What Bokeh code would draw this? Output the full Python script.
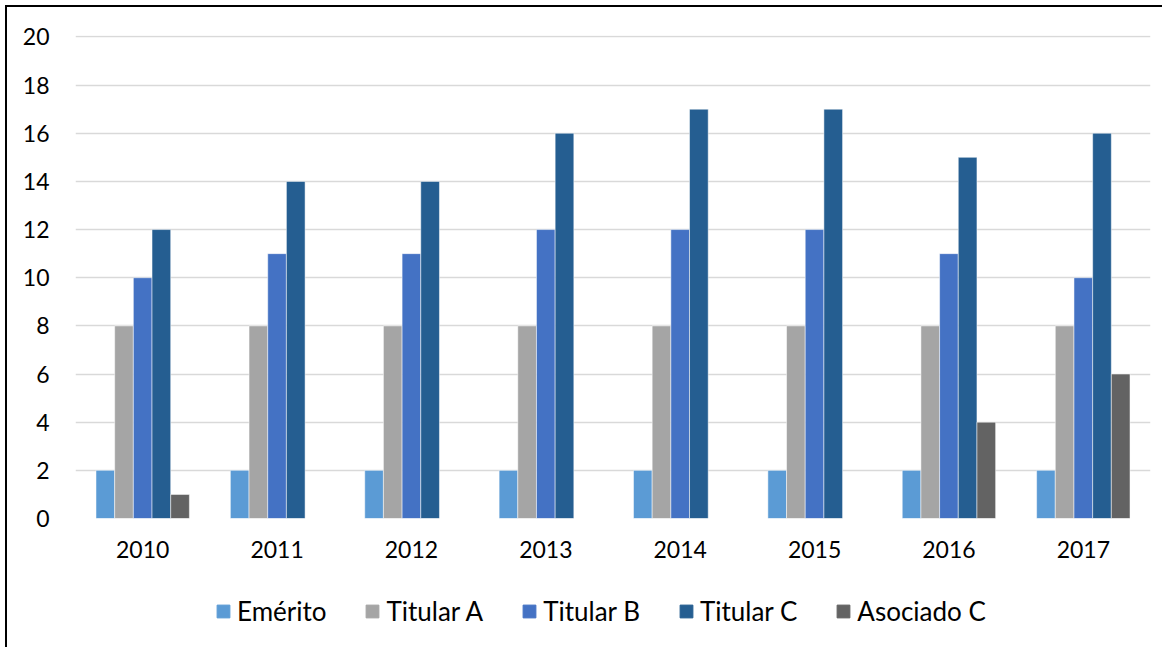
from bokeh.plotting import figure
from bokeh.layouts import column
from bokeh.models import ColumnDataSource, FactorRange, Legend, LegendItem, SingleIntervalTicker, Range1d
from bokeh.transform import dodge
from bokeh.embed import file_html
from bokeh.resources import INLINE

years = ["2010", "2011", "2012", "2013", "2014", "2015", "2016", "2017"]
series_names = ["Emérito", "Titular A", "Titular B", "Titular C", "Asociado C"]
emerito = [2, 2, 2, 2, 2, 2, 2, 2]
titular_a = [8, 8, 8, 8, 8, 8, 8, 8]
titular_b = [10, 11, 11, 12, 12, 12, 11, 10]
titular_c = [12, 14, 14, 16, 17, 17, 15, 16]
asociado_c = [1, 0, 0, 0, 0, 0, 4, 6]
colors = ["#5B9BD5", "#A5A5A5", "#4472C4", "#255E91", "#636363"]

src = ColumnDataSource(dict(year=years, s0=emerito, s1=titular_a, s2=titular_b,
                            s3=titular_c, s4=asociado_c))

FONT = "Lato"
W = 1155
p = figure(x_range=FactorRange(*years, range_padding=0), y_range=Range1d(0, 20.06),
           width=W, height=575, output_backend="svg", toolbar_location=None,
           min_border_left=68, min_border_right=12, min_border_top=28, min_border_bottom=64)

bw = 0.139
keys = ["s0", "s1", "s2", "s3", "s4"]
for i, (key, c) in enumerate(zip(keys, colors)):
    p.vbar(x=dodge("year", (i - 2) * bw, range=p.x_range), top=key, width=bw,
           source=src, fill_color=c, line_color="white", line_width=0.5)

p.outline_line_color = None
p.xgrid.grid_line_color = None
p.ygrid.grid_line_color = "#D9D9D9"
p.ygrid.grid_line_width = 1.5
p.yaxis.ticker = SingleIntervalTicker(interval=2)
p.yaxis.axis_line_color = None
p.yaxis.major_tick_line_color = None
p.yaxis.minor_tick_line_color = None
p.yaxis.major_label_text_font = FONT
p.yaxis.major_label_text_font_size = "23px"
p.yaxis.major_label_text_color = "black"
p.yaxis.major_label_standoff = 20
p.xaxis.axis_line_color = None
p.xaxis.major_tick_line_color = None
p.xaxis.minor_tick_line_color = None
p.xaxis.major_label_text_font = FONT
p.xaxis.major_label_text_font_size = "23px"
p.xaxis.major_label_text_color = "black"
p.xaxis.major_label_standoff = 16

# legend-only strip below the chart
pl = figure(width=W, height=65, output_backend="svg", toolbar_location=None,
            x_range=Range1d(0, 1), y_range=Range1d(0, 1),
            min_border=0, min_border_left=0, min_border_right=0,
            min_border_top=0, min_border_bottom=0)
pl.axis.visible = False
pl.grid.visible = False
pl.outline_line_color = None
items = []
for name, c in zip(series_names, colors):
    r = pl.vbar(x=[-1000], top=[-1000], bottom=[-1000], width=0.1, fill_color=c, line_color=c)
    items.append(LegendItem(label=name, renderers=[r]))
legend = Legend(items=items, orientation="horizontal", location=(140, 20),
                label_text_font=FONT, label_text_font_size="26px", label_text_color="black",
                glyph_width=16, glyph_height=16, label_standoff=6, spacing=38,
                border_line_color=None, background_fill_alpha=0, padding=0, margin=0)
pl.add_layout(legend, "center")

layout = column(p, pl, spacing=0)
layout.styles = {"border-left": "2px solid black", "border-top": "2px solid black",
                 "margin-left": "5px", "margin-top": "5px"}

open("out.html", "w").write(file_html(layout, INLINE))
